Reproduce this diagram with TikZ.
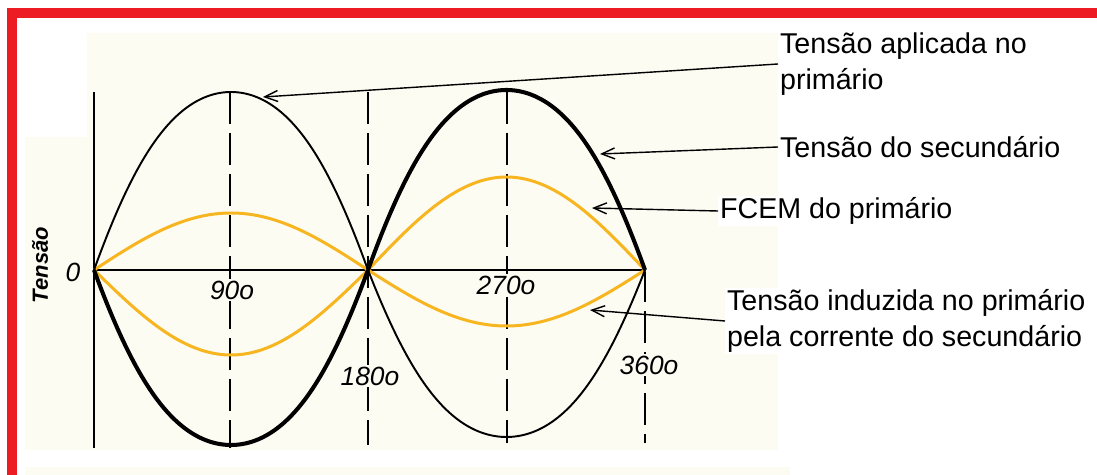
\documentclass[tikz,border=0pt]{standalone}
\usepackage{fontspec}
\setmainfont{Liberation Sans}
\usetikzlibrary{arrows.meta}
\definecolor{frame}{RGB}{237,28,36}
\definecolor{paper}{RGB}{252,252,243}
\definecolor{fcemorange}{RGB}{247,181,32}
\begin{document}
\begin{tikzpicture}[x=0.02cm, y=-0.02cm,
    thinwave/.style={line width=1.1pt},
    thickwave/.style={line width=2.3pt},
    orangewave/.style={fcemorange, line width=1.7pt},
    guide/.style={line width=1.1pt, dash pattern=on 0.64cm off 0.18cm},
    deg/.style={font=\fontsize{15}{17}\selectfont\itshape, fill=paper, inner sep=1pt},
    note/.style={font=\fontsize{16.3}{20.5}\selectfont, align=left, anchor=west, fill=white, inner sep=1pt},
    pointer/.style={line width=0.8pt, -{Straight Barb[length=0.26cm, width=0.22cm]}},
    declare function={hump(\t,\c)=sin(\t)*(1+\c*(1-sin(\t)));}]
    \useasboundingbox (0,0) rectangle (1097,475);
    \fill[paper] (87,33) rectangle (778,450);
    \fill[paper] (25,137) rectangle (87,450);
    \fill[paper] (25,467) rectangle (790,475);
    \fill[frame] (7,8) rectangle (1097,18);
    \fill[frame] (7,8) rectangle (17,475);

    \coordinate (o0) at (94,270);
    \coordinate (o180) at (368,270);
    \coordinate (o360) at (645,270);

    \draw[line width=1.1pt] (94,92) -- (94,448);
    \draw[line width=1.1pt] (o0) -- (o360);
    \draw[guide] (230,92) -- (230,448);
    \draw[guide] (368,92) -- (368,445);
    \draw[guide] (507,92) -- (507,443);
    \draw[guide] (645,270) -- (645,443);

    \draw[orangewave] plot[smooth, domain=0:180, samples=61] ({94+\x/180*274}, {270-57*hump(\x,0)});
    \draw[orangewave] plot[smooth, domain=0:180, samples=61] ({94+\x/180*274}, {270+85*hump(\x,0)});
    \draw[orangewave] plot[smooth, domain=0:180, samples=61] ({368+\x/180*277}, {270-93*hump(\x,0)});
    \draw[orangewave] plot[smooth, domain=0:180, samples=61] ({368+\x/180*277}, {270+56*hump(\x,0)});
    \draw[thinwave] plot[smooth, domain=0:180, samples=61] ({94+\x/180*274}, {270-178*hump(\x,0.35)});
    \draw[thinwave] plot[smooth, domain=0:180, samples=61] ({368+\x/180*277}, {270+167*hump(\x,0.35)});
    \draw[thickwave] plot[smooth, domain=0:180, samples=61] ({94+\x/180*274}, {270+175*hump(\x,0.35)});
    \draw[thickwave] plot[smooth, domain=0:180, samples=61] ({368+\x/180*277}, {270-180*hump(\x,0.35)});

    \node[font=\fontsize{15}{17}\selectfont\itshape] (zero) at (73,272) {0};
    \node[font=\fontsize{12.5}{14}\selectfont\bfseries\itshape, rotate=90] (ylabel) at (40,265) {Tensão};
    \node[deg] (d90) at (232,290) {90o};
    \node[deg] (d180) at (370,376) {180o};
    \node[deg] (d270) at (506,285) {270o};
    \node[deg] (d360) at (649,365) {360o};

    \coordinate (tipapplied) at (263,97);
    \coordinate (tipsecond) at (600,154);
    \coordinate (tipfcem) at (592,208);
    \coordinate (tipinduced) at (590,310);

    \node[note] (applied) at (778,64) {Tensão aplicada no\\primário};
    \node[note] (second) at (778,147) {Tensão do secundário};
    \node[note] (fcem) at (718,211) {FCEM do primário};
    \node[note] (induced) at (725,321) {Tensão induzida no primário\\pela corrente do secundário};

    \draw[pointer] (applied.west) -- (tipapplied);
    \draw[pointer] (second.west) -- (tipsecond);
    \draw[pointer] (fcem.west) -- (tipfcem);
    \draw[pointer] (induced.west) -- (tipinduced);
\end{tikzpicture}
\end{document}
